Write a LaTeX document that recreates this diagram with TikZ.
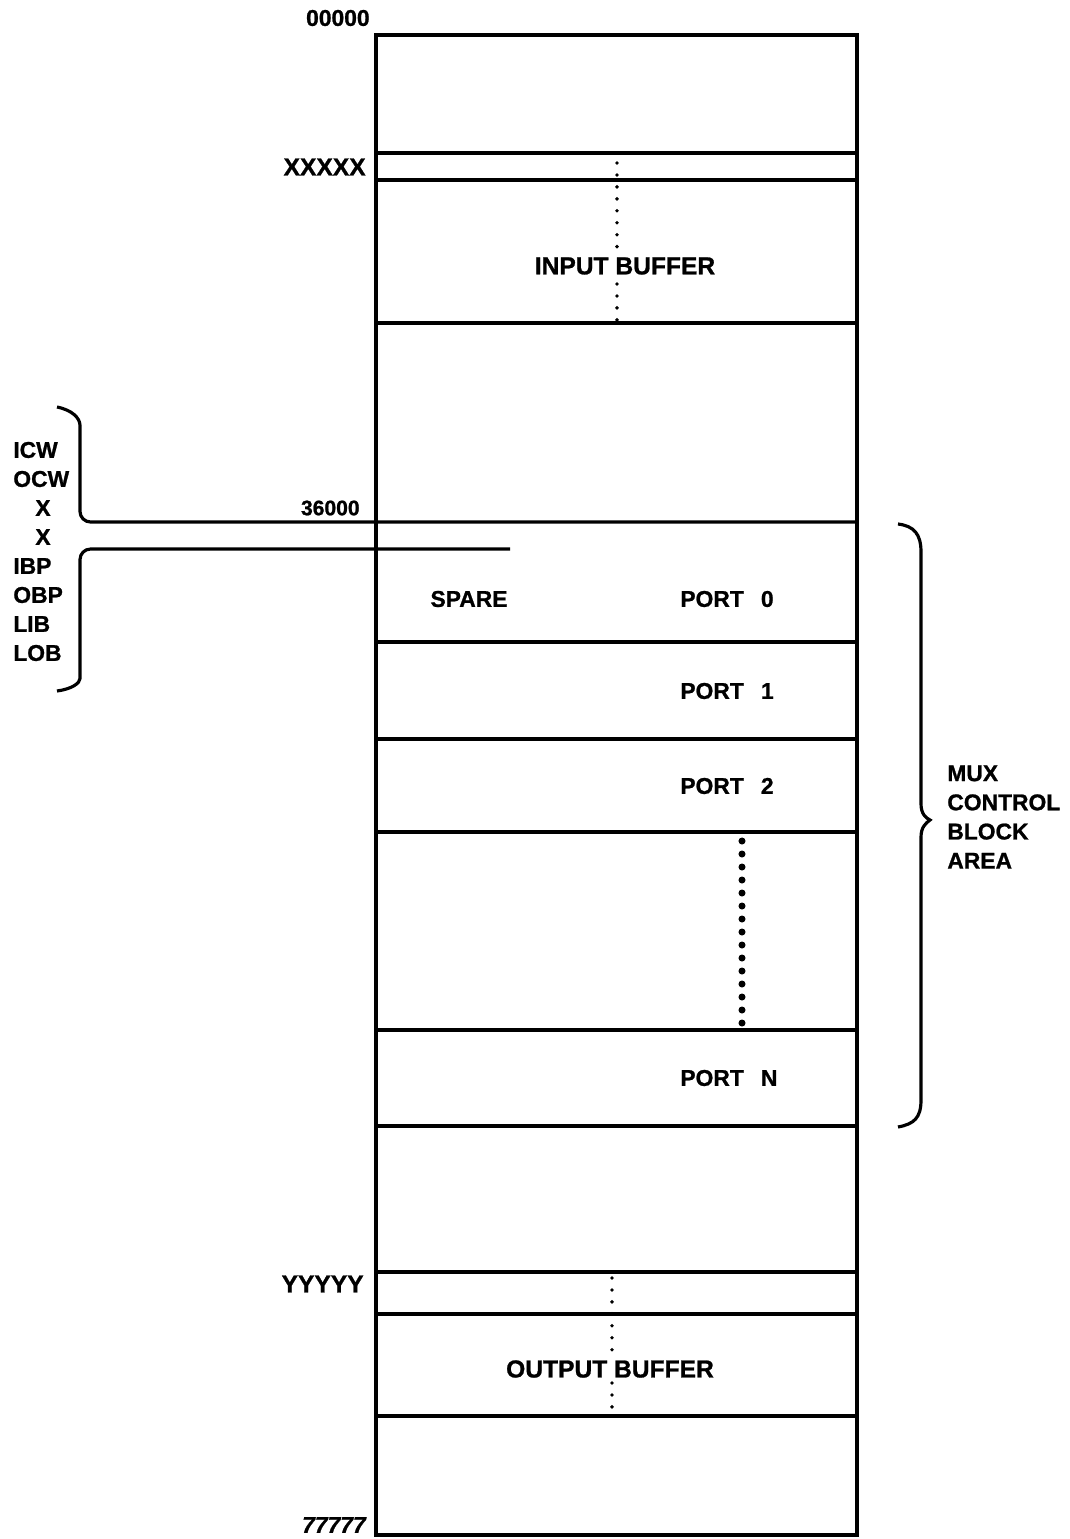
\documentclass[tikz,border=0pt]{standalone}
\usepackage{fontspec}
\setmainfont{Liberation Sans}[BoldFeatures={FakeBold=1}, BoldItalicFeatures={FakeBold=1}]

\begin{document}
\begin{tikzpicture}[x=0.02cm, y=-0.02cm, every node/.style={font=\bfseries\fontsize{13}{16.6}\selectfont, inner sep=0pt}, rule/.style={line width=1.8pt}, dotline/.style={line width=2.2pt, line cap=round, dash pattern=on 0pt off 6.8pt}, bigdots/.style={line width=4pt, line cap=round, dash pattern=on 0pt off 7.4pt}, addr/.style={anchor=east}, field/.style={anchor=west}, bufname/.style={font=\bfseries\fontsize{14}{16}\selectfont}]
	\useasboundingbox (0,0) rectangle (1070,1539);
	% memory column
	\draw[rule] (376,35) rectangle (857,1535);
	\foreach \y in {153,180,323,642,739,832,1030,1126,1272,1314,1416}
		\draw[rule] (376,\y) -- (857,\y);
	% brackets to the left, 36000 line
	\draw[rule, rounded corners=6] (57,407) .. controls (72,410) and (80,418) .. (80,436) -- (80,522) -- (857,522);
	\draw[rule, rounded corners=6] (510,549) -- (80,549) -- (80,668) .. controls (80,683) and (72,689) .. (57,691);
	% brace to the right
	\draw[rule] (898,524) .. controls (914,526) and (921,534) .. (921,552) -- (921,804) .. controls (921,814) and (926,818) .. (930,820) .. controls (926,823) and (921,827) .. (921,837) -- (921,1100) .. controls (921,1118) and (914,1124) .. (898,1127);
	% addresses
	\node[addr] (a0) at (370,18) {00000};
	\node[addr, font=\bfseries\fontsize{14}{16}\selectfont] (ax) at (366,167) {XXXXX};
	\node[addr, font=\bfseries\fontsize{12}{14}\selectfont] (a36) at (360,508) {36000};
	\node[addr, font=\bfseries\fontsize{14}{16}\selectfont] (ay) at (364,1284) {YYYYY};
	\node[addr, font=\bfseries\itshape\fontsize{13}{16}\selectfont] (a7) at (366,1525) {77777};
	% control block fields
	\node[field] (icw) at (13,450) {ICW};
	\node[field] (ocw) at (13,479) {OCW};
	\node (x1) at (43,508) {X};
	\node (x2) at (43,537) {X};
	\node[field] (ibp) at (13,566) {IBP};
	\node[field] (obp) at (13,595) {OBP};
	\node[field] (lib) at (13,624) {LIB};
	\node[field] (lob) at (13,653) {LOB};
	% areas
	\node[bufname] (inbuf) at (625,266) {INPUT BUFFER};
	\node (spare) at (469,599) {SPARE};
	\node[field] (p0) at (680,599) {PORT\hspace{0.75em}0};
	\node[field] (p1) at (680,691) {PORT\hspace{0.75em}1};
	\node[field] (p2) at (680,786) {PORT\hspace{0.75em}2};
	\node[field] (pn) at (680,1078) {PORT\hspace{0.75em}N};
	\node[bufname] (outbuf) at (610,1369) {OUTPUT BUFFER};
	\node[field, align=left] (mux) at (947,817) {MUX\\CONTROL\\BLOCK\\AREA};
	% dotted continuations
	\draw[dotline] (617,163) -- (617,252);
	\draw[dotline] (617,284) -- (617,320);
	\draw[dotline] (612,1278) -- (612,1356);
	\draw[dotline] (612,1383) -- (612,1411);
	\draw[bigdots] (742,841) -- (742,1027);
\end{tikzpicture}
\end{document}
